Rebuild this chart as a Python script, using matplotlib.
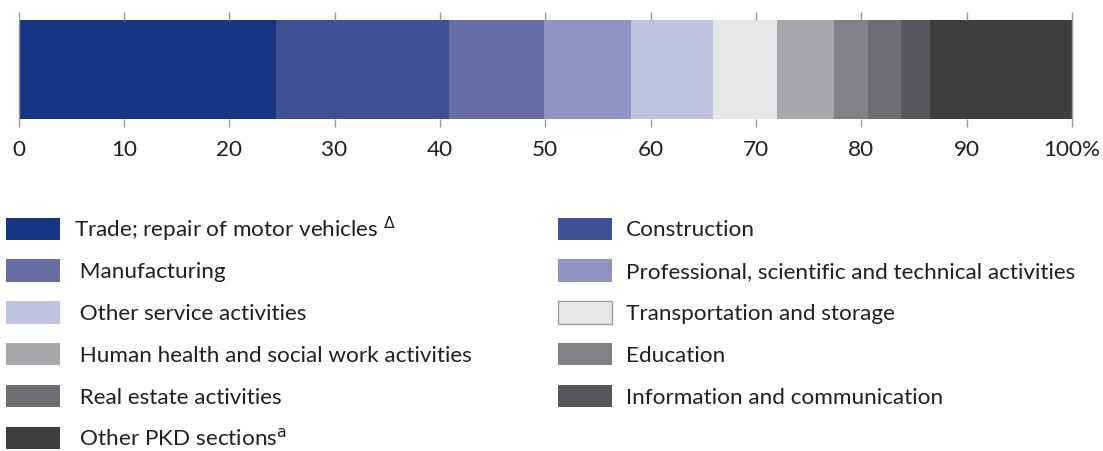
import matplotlib.pyplot as plt
import matplotlib.patches as mpatches

plt.rcParams['font.family'] = ['Lato', 'DejaVu Sans']

sections = ["Trade; repair of motor vehicles $^{\\Delta}$", "Construction", "Manufacturing",
            "Professional, scientific and technical activities", "Other service activities",
            "Transportation and storage", "Human health and social work activities",
            "Education", "Real estate activities", "Information and communication",
            "Other PKD sections$^{\\mathrm{a}}$"]
shares = [24.4, 16.5, 9.0, 8.2, 7.8, 6.1, 5.4, 3.2, 3.2, 2.7, 13.5]
colors = ["#173583", "#415094", "#676da5", "#8f94c0", "#bfc3de", "#e6e7e9",
          "#a7a8ac", "#818286", "#6d6e72", "#56575a", "#3e3e3e"]
ticks = [0, 10, 20, 30, 40, 50, 60, 70, 80, 90, 100]
tick_labels = ["0", "10", "20", "30", "40", "50", "60", "70", "80", "90", "100%"]

txt = "#231f20"
fs = 16.2
W, H = 1103, 451
fig = plt.figure(figsize=(W / 100, H / 100), dpi=100)
ax = fig.add_axes([18.5 / W, 1 - 119.5 / H, (1072 - 18.5) / W, 100 / H])

left = 0
for s, c in zip(shares, colors):
    ax.barh(0, s, left=left, height=1, color=c, linewidth=0)
    left += s

ax.set_xlim(0, 100)
ax.set_ylim(-0.5, 0.5)
ax.set_yticks([])
ax.set_xticks(ticks)
ax.set_xticklabels(tick_labels)
ax.tick_params(axis='x', direction='out', top=True, bottom=True, length=5.5,
               width=1, color="#9a9a9a", labelsize=fs, labelcolor=txt, pad=9)
for side in ['top', 'bottom']:
    ax.spines[side].set_visible(False)
for side in ['left', 'right']:
    ax.spines[side].set_color("#9a9a9a")
    ax.spines[side].set_linewidth(1)

# legend: two columns, filled row by row, one small legend per entry
px = fs * 100 / 72
for i, (name, c) in enumerate(zip(sections, colors)):
    row, col = divmod(i, 2)
    if i == 5:
        h = mpatches.Patch(facecolor=c, edgecolor="#a0a0a0", linewidth=1)
    else:
        h = mpatches.Patch(facecolor=c, linewidth=0)
    lab = name
    if col == 0 and i != 0:
        lab = " " + lab
    x0 = 6 if col == 0 else 558
    yc = 229 + row * 41.8
    leg = fig.legend([h], [lab], loc='center left',
                     bbox_to_anchor=(x0 / W, 1 - yc / H), frameon=False,
                     fontsize=fs, borderpad=0, borderaxespad=0,
                     handlelength=54 / px, handleheight=26 / px,
                     handletextpad=14 / px)
    for t in leg.get_texts():
        t.set_color(txt)

fig.savefig("out.png", dpi=100)
